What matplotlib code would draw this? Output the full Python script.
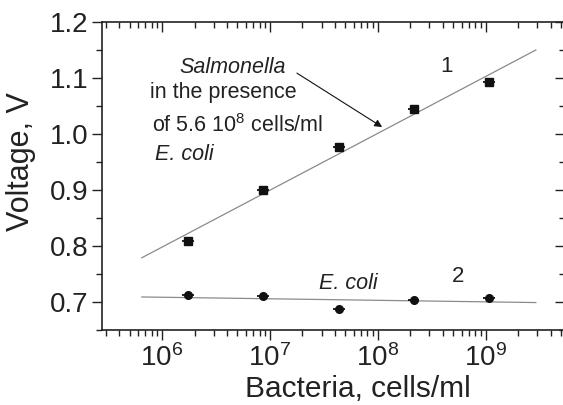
import numpy as np
import matplotlib
matplotlib.use("Agg")
import matplotlib.pyplot as plt
from matplotlib.ticker import LogLocator, LogFormatterMathtext, MultipleLocator, FormatStrFormatter, NullFormatter

plt.rcParams['font.family'] = ['Liberation Sans', 'DejaVu Sans']
plt.rcParams['mathtext.fontset'] = 'custom'
plt.rcParams['mathtext.rm'] = 'Liberation Sans'
plt.rcParams['mathtext.it'] = 'Liberation Sans:italic'

# bacteria concentration, cells/ml
conc = [1.75e6, 8.7e6, 4.35e7, 2.15e8, 1.07e9]
conc_err = [0.22e6, 1.1e6, 5.5e6, 2.7e7, 1.35e8]

# curve 1: Salmonella in presence of E. coli
volt1 = [0.809, 0.900, 0.976, 1.045, 1.093]
# curve 2: E. coli
volt2 = [0.712, 0.711, 0.688, 0.704, 0.707]

# fitted lines (end points)
fit_x = [6.5e5, 2.9e9]
fit1_y = [0.779, 1.150]
fit2_y = [0.709, 0.699]

tc = '#222222'

fig = plt.figure(figsize=(5.63, 4.05), dpi=100)
ax = fig.add_axes([102/563, 1 - 330/405, 463/563, 308/405])

ax.plot(fit_x, fit1_y, color='#8a8a8a', lw=0.9, zorder=1)
ax.plot(fit_x, fit2_y, color='#8a8a8a', lw=0.9, zorder=1)

ax.errorbar(conc, volt1, xerr=conc_err, fmt='s', color='#111111', ms=5.5,
            elinewidth=1.3, capsize=0, zorder=3)
ax.errorbar(conc, volt2, xerr=conc_err, fmt='o', color='#111111', ms=5.5,
            elinewidth=1.3, capsize=0, zorder=3)

ax.set_xscale('log')
ax.set_xlim(2.78e5, 5.4e9)
ax.set_ylim(0.65, 1.2)

ax.xaxis.set_major_locator(LogLocator(base=10, numticks=20))
ax.xaxis.set_minor_locator(LogLocator(base=10, subs=np.arange(2, 10), numticks=20))
ax.xaxis.set_major_formatter(LogFormatterMathtext())
ax.xaxis.set_minor_formatter(NullFormatter())
ax.yaxis.set_major_locator(MultipleLocator(0.1))
ax.yaxis.set_minor_locator(MultipleLocator(0.05))
ax.yaxis.set_major_formatter(FormatStrFormatter('%.1f'))

ax.tick_params(which='major', direction='out', length=7, width=1, colors=tc)
ax.tick_params(which='minor', direction='out', length=4, width=1, colors=tc)
ax.tick_params(axis='x', labelsize=20, pad=3.5)
ax.tick_params(axis='y', labelsize=20, pad=2.5)
ax.spines['right'].set_visible(False)
for s in ['left', 'bottom', 'top']:
    ax.spines[s].set_linewidth(1.2)
    ax.spines[s].set_color(tc)

# mirrored inward ticks on top and right
ax2 = ax.twiny()
ax2.set_xscale('log')
ax2.set_xlim(ax.get_xlim())
ax2.xaxis.set_major_locator(LogLocator(base=10, numticks=20))
ax2.xaxis.set_minor_locator(LogLocator(base=10, subs=np.arange(2, 10), numticks=20))
ax2.tick_params(which='major', direction='in', length=7, width=1, labeltop=False, colors=tc)
ax2.tick_params(which='minor', direction='in', length=4, width=1, colors=tc)
ax2.xaxis.set_minor_formatter(NullFormatter())
ax3 = ax.twinx()
ax3.set_ylim(ax.get_ylim())
ax3.yaxis.set_major_locator(MultipleLocator(0.1))
ax3.yaxis.set_minor_locator(MultipleLocator(0.05))
ax3.tick_params(which='major', direction='in', length=7, width=1, labelright=False, colors=tc)
ax3.tick_params(which='minor', direction='in', length=4, width=1, colors=tc)
for a in (ax2, ax3):
    for s in a.spines.values():
        s.set_visible(False)

fig.text(357.5/563, 1 - 397/405, 'Bacteria, cells/ml', fontsize=21.5, color=tc,
         ha='center', va='baseline')
fig.text(21.5/563, 1 - 161.5/405, 'Voltage, V', fontsize=22, color=tc,
         ha='center', va='center', rotation=90)

ax.text(0.1663, 0.834, 'Salmonella', style='italic', fontsize=15.5, color=tc,
        transform=ax.transAxes, va='baseline')
ax.text(0.1037, 0.753, 'in the presence', fontsize=15.5, color=tc,
        transform=ax.transAxes, va='baseline')
ax.text(0.108, 0.643, 'of 5.6 10$^{8}$ cells/ml', fontsize=15.5, color=tc,
        transform=ax.transAxes, va='baseline')
ax.text(0.1145, 0.552, 'E. coli', style='italic', fontsize=15.5, color=tc,
        transform=ax.transAxes, va='baseline')
ax.text(0.743, 0.838, '1', fontsize=16, color=tc, transform=ax.transAxes,
        ha='center', va='baseline')
ax.text(0.4687, 0.133, 'E. coli', style='italic', fontsize=15.5, color=tc,
        transform=ax.transAxes, va='baseline')
ax.text(0.769, 0.156, '2', fontsize=16, color=tc, transform=ax.transAxes,
        ha='center', va='baseline')

ax.annotate('', xy=(0.605, 0.659), xytext=(0.421, 0.834),
            xycoords='axes fraction', textcoords='axes fraction',
            arrowprops=dict(arrowstyle='-|>', lw=0.8, color='#111111',
                            mutation_scale=11, shrinkA=0, shrinkB=0))

fig.savefig('out.png', dpi=100)
